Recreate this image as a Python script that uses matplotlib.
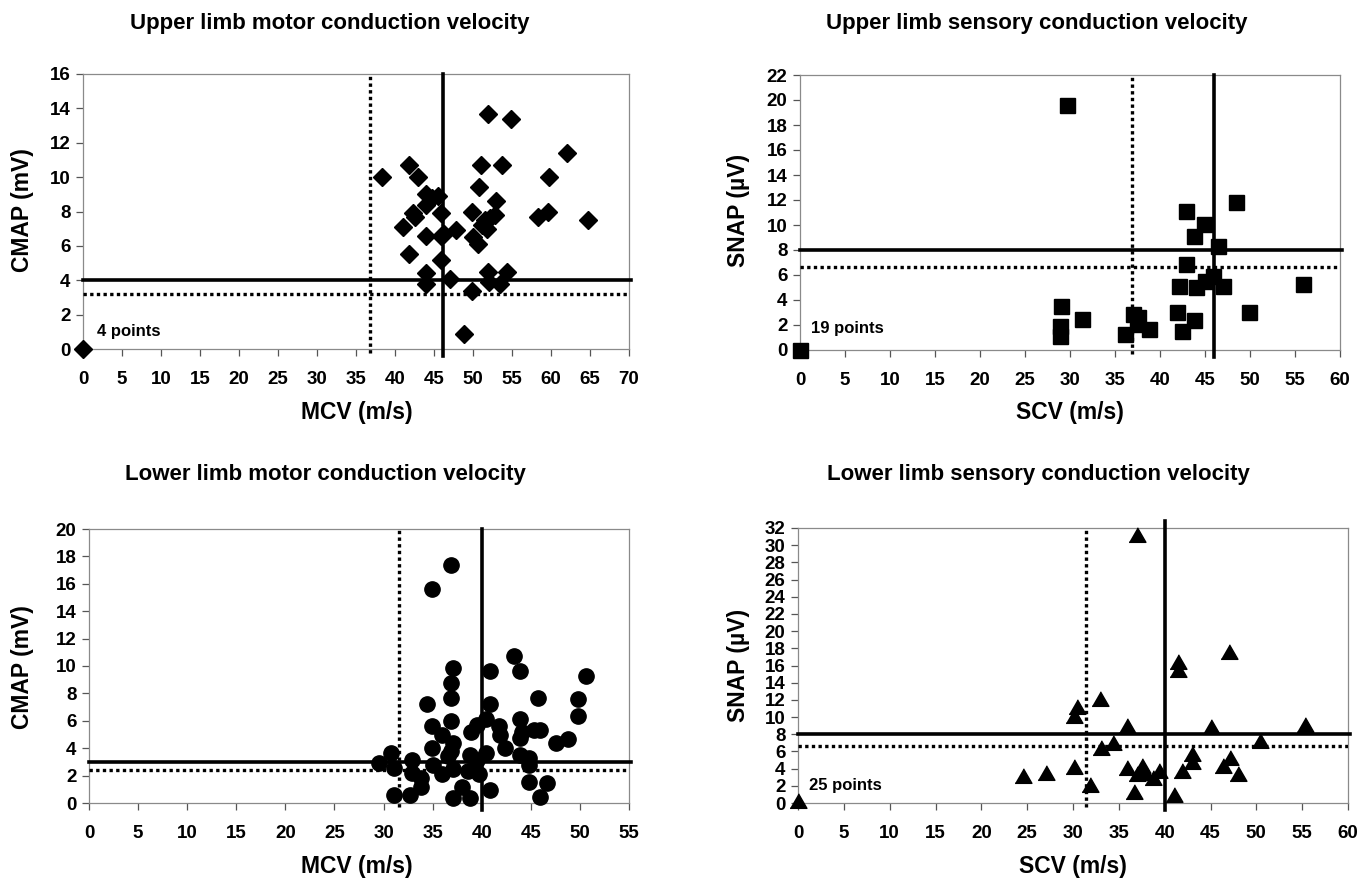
import numpy as np
import matplotlib.pyplot as plt

plt.rcParams['font.family'] = ['Liberation Sans', 'DejaVu Sans']
plt.rcParams['font.weight'] = 'bold'

# ================= data =================
# upper limb, motor
ul_mcv = [0, 38.3, 41.8, 42.9, 44.0, 44.8, 45.5, 44.0, 42.3, 42.6,
          41.0, 44.0, 41.8, 44.0, 44.0, 45.9, 45.9, 46.3, 47.8, 45.9,
          47.0, 48.8, 49.9, 49.9, 50.0, 50.6, 51.0, 50.8, 51.2, 51.6,
          52.2, 51.8, 51.9, 51.9, 52.0, 53.0, 52.8, 53.4, 53.7, 54.4,
          54.9, 58.3, 59.6, 59.8, 62.1, 64.7]
ul_cmap = [0, 10.0, 10.7, 10.0, 9.0, 8.8, 8.9, 8.4, 7.9, 7.7,
           7.1, 6.6, 5.5, 4.4, 3.8, 7.9, 6.6, 6.7, 6.9, 5.2,
           4.1, 0.9, 3.4, 8.0, 6.5, 6.1, 10.7, 9.4, 7.2, 7.5,
           7.6, 7.0, 13.7, 4.5, 3.9, 8.6, 7.8, 3.8, 10.7, 4.5,
           13.4, 7.7, 8.0, 10.0, 11.4, 7.5]

# upper limb, sensory
ul_scv = [0, 29.7, 29.0, 28.9, 28.9, 31.3, 36.1, 37.0, 37.6, 37.4,
          38.8, 42.9, 44.9, 43.8, 46.5, 48.4, 42.9, 45.9, 45.0, 47.0,
          44.0, 42.1, 55.9, 41.9, 43.8, 42.5, 49.9]
ul_snap = [0, 19.6, 3.5, 1.9, 1.1, 2.5, 1.3, 2.9, 2.6, 2.1,
           1.7, 11.1, 10.1, 9.1, 8.3, 11.8, 6.9, 5.9, 5.5, 5.1,
           5.0, 5.1, 5.25, 3.0, 2.4, 1.5, 3.0]

# lower limb, motor
ll_mcv = [29.5, 30.8, 31.1, 31.1, 32.7, 32.9, 32.9, 33.8, 33.8, 34.4,
          34.9, 34.9, 35.0, 34.9, 36.0, 36.0, 36.6, 36.9, 37.1, 36.9,
          36.9, 36.9, 37.1, 36.9, 37.1, 37.1, 38.0, 38.9, 38.8, 38.8,
          38.6, 39.5, 39.7, 39.5, 40.4, 40.8, 40.8, 40.8, 40.4, 41.8,
          41.9, 42.4, 43.3, 43.9, 43.9, 44.1, 43.9, 43.9, 44.8, 44.8,
          44.8, 45.3, 45.7, 45.9, 45.9, 46.6, 47.6, 48.8, 49.8, 49.8,
          50.6]
ll_cmap = [2.95, 3.65, 2.55, 0.6, 0.6, 3.15, 2.2, 1.8, 1.2, 7.2,
           5.6, 4.0, 2.8, 15.6, 5.0, 2.1, 3.45, 17.4, 9.85, 8.75,
           7.65, 6.0, 4.4, 3.8, 0.4, 2.45, 1.2, 5.2, 3.5, 0.35,
           2.3, 5.7, 2.1, 3.15, 3.65, 9.6, 7.2, 0.95, 6.1, 5.6,
           5.0, 4.0, 10.7, 9.6, 6.1, 5.2, 4.75, 3.5, 3.3, 2.8,
           1.55, 5.3, 7.65, 5.3, 0.45, 1.45, 4.35, 4.65, 7.6, 6.35,
           9.3]

# lower limb, sensory
ll_scv = [0, 37.0, 41.5, 41.5, 47.0, 32.9, 30.4, 30.1, 35.9, 45.0,
          55.3, 50.4, 33.0, 34.4, 43.0, 43.0, 41.9, 47.1, 46.4, 48.0,
          24.5, 27.0, 30.1, 31.9, 35.9, 36.7, 37.5, 37.0, 37.9, 38.7,
          39.4, 41.0]
ll_snap = [0, 31.0, 16.2, 15.2, 17.3, 11.9, 10.9, 9.9, 8.7, 8.6,
           8.8, 7.0, 6.2, 6.7, 5.5, 4.5, 3.5, 5.0, 4.1, 3.2,
           2.9, 3.3, 3.9, 1.9, 3.8, 1.1, 4.1, 3.1, 3.3, 2.7,
           3.5, 0.7]

# reference limits: (solid vertical, dotted vertical, solid horizontal, dotted horizontal)
ul_motor_limits = (46.2, 36.8, 4.0, 3.2)
ul_sens_limits = (46.0, 36.9, 8.0, 6.6)
ll_motor_limits = (40.0, 31.6, 3.0, 2.4)
ll_sens_limits = (40.0, 31.4, 8.0, 6.6)

W, H = 1367, 882
TRIANGLE = [(-1, -0.5774), (1, -0.5774), (0, 1.1547)]
TITLE_SIZE = 16
LABEL_SIZE = 16.5
TICK_SIZE = 13.5


def px_rect(left, top, right, bottom):
    return [left / W, 1 - bottom / H, (right - left) / W, (bottom - top) / H]


def draw_panel(fig, rect, x, y, marker, ms, xmax, ymax, ystep, limits,
               note=None, note_xy=None, v_over_top=False):
    ax = fig.add_axes(rect)
    ax.plot(x, y, linestyle='none', marker=marker, ms=ms, color='black',
            mec='black', clip_on=False, zorder=4)

    vsolid, vdot, hsolid, hdot = limits
    ext = 0.025 * ymax
    top = ymax + ext if v_over_top else ymax
    ax.plot([vsolid, vsolid], [-ext, top], color='black', lw=2.6,
            clip_on=False, zorder=3)
    ax.plot([vdot, vdot], [-ext * 0.6, ymax], color='black', lw=2.4,
            linestyle=(0, (1, 1)), clip_on=False, zorder=3)
    ax.plot([0, xmax * 1.004], [hsolid, hsolid], color='black', lw=2.6,
            clip_on=False, zorder=3)
    ax.plot([0, xmax], [hdot, hdot], color='black', lw=2.4,
            linestyle=(0, (1, 1)), zorder=3)

    ax.set_xlim(0, xmax)
    ax.set_ylim(0, ymax)
    ax.set_xticks(np.arange(0, xmax + 1, 5))
    ax.set_yticks(np.arange(0, ymax + 1, ystep))
    for s in ax.spines.values():
        s.set_color('#8a8a8a')
        s.set_linewidth(0.9)
    ax.tick_params(axis='both', direction='out', length=5, width=0.9,
                   color='#555555', labelsize=TICK_SIZE)
    ax.tick_params(axis='x', pad=11)
    ax.tick_params(axis='y', pad=4)
    for lab in ax.get_xticklabels() + ax.get_yticklabels():
        lab.set_fontweight('bold')

    if note:
        ax.text(note_xy[0], note_xy[1], note, fontsize=12, fontweight='bold',
                ha='left', va='center')
    return ax


def fig_text(fig, xpx, ypx, s, size, rot=0):
    fig.text(xpx / W, 1 - ypx / H, s, fontsize=size, fontweight='bold',
             ha='center', va='center', rotation=rot)


fig = plt.figure(figsize=(W / 100, H / 100), dpi=100)

# Upper limb motor
draw_panel(fig, px_rect(83, 74, 629, 349), ul_mcv, ul_cmap, 'D', 8.7,
           70, 16, 2, ul_motor_limits, '4 points', (1.8, 1.0))
fig_text(fig, 330, 23, 'Upper limb motor conduction velocity', TITLE_SIZE)
fig_text(fig, 23, 210, 'CMAP (mV)', LABEL_SIZE, rot=90)
fig_text(fig, 357, 413, 'MCV (m/s)', LABEL_SIZE)

# Upper limb sensory
draw_panel(fig, px_rect(800, 75, 1340, 350), ul_scv, ul_snap, 's', 10.8,
           60, 22, 2, ul_sens_limits, '19 points', (1.2, 1.7))
fig_text(fig, 1037, 23, 'Upper limb sensory conduction velocity', TITLE_SIZE)
fig_text(fig, 738, 210, 'SNAP (\u00b5V)', LABEL_SIZE, rot=90)
fig_text(fig, 1070, 413, 'SCV (m/s)', LABEL_SIZE)

# Lower limb motor
draw_panel(fig, px_rect(89, 529, 629, 803), ll_mcv, ll_cmap, 'o', 11,
           55, 20, 2, ll_motor_limits)
fig_text(fig, 325, 474, 'Lower limb motor conduction velocity', TITLE_SIZE)
fig_text(fig, 23, 667, 'CMAP (mV)', LABEL_SIZE, rot=90)
fig_text(fig, 357, 866, 'MCV (m/s)', LABEL_SIZE)

# Lower limb sensory
draw_panel(fig, px_rect(798, 528, 1348, 803), ll_scv, ll_snap, TRIANGLE, 14,
           60, 32, 2, ll_sens_limits, '25 points', (1.2, 2.0), v_over_top=True)
fig_text(fig, 1038, 474, 'Lower limb sensory conduction velocity', TITLE_SIZE)
fig_text(fig, 738, 665, 'SNAP (\u00b5V)', LABEL_SIZE, rot=90)
fig_text(fig, 1073, 866, 'SCV (m/s)', LABEL_SIZE)

fig.savefig('out.png', dpi=100)
